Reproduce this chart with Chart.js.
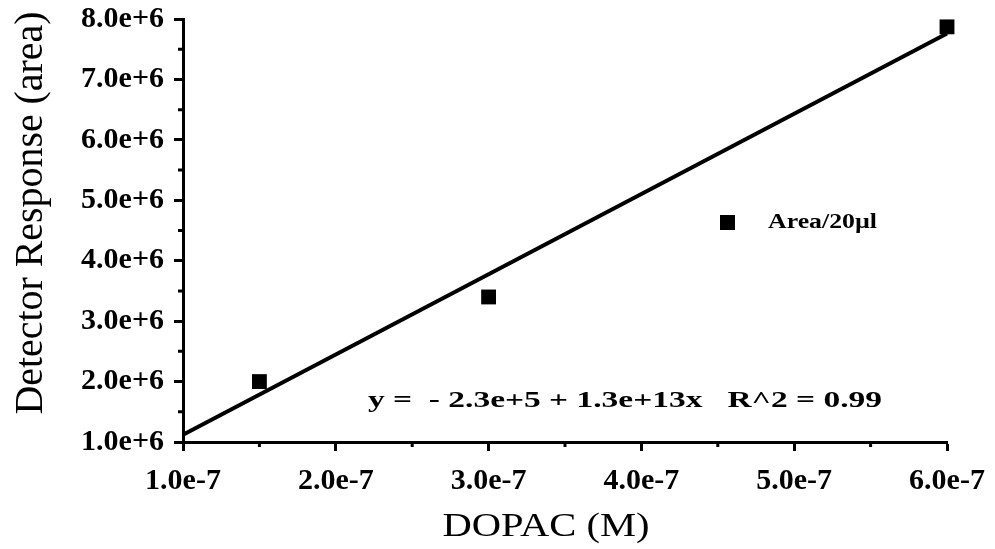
<!DOCTYPE html>
<html>
<head>
<meta charset="utf-8">
<script src="https://cdn.jsdelivr.net/npm/chart.js@4.4.0/dist/chart.umd.min.js"></script>
<style>
  html, body { margin: 0; padding: 0; background: #fff; }
  #wrap { width: 995px; height: 549px; position: relative; }
</style>
</head>
<body>
<div id="wrap"><canvas id="chart"></canvas></div>
<script>
// measured points (DOPAC concentration vs peak area)
const concM = [1.5e-7, 3.0e-7, 6.0e-7];
const areaCounts = [2.0e6, 3.4e6, 7.87e6];

// regression line as drawn, end points
const fitX = [1.0e-7, 6.0e-7];
const fitY = [1.12e6, 7.76e6];

const xTicks = [1e-7, 2e-7, 3e-7, 4e-7, 5e-7, 6e-7];
const yTicks = [1e6, 2e6, 3e6, 4e6, 5e6, 6e6, 7e6, 8e6];

const seriesLabel = 'Area/20\u00b5l';
const equationText = 'y =  - 2.3e+5 + 1.3e+13x   R^2 = 0.99';
const xTitle = 'DOPAC (M)';
const yTitle = 'Detector Response (area)';

const SERIF = '"Liberation Serif", "Times New Roman", serif';
const INK = '#000';

// short unlabelled ticks half way between the labelled ones
const minorTicks = {
  id: 'minorTicks',
  afterDraw(chart) {
    const { ctx, chartArea, scales } = chart;
    ctx.save();
    ctx.strokeStyle = INK;
    ctx.lineWidth = 3;
    ctx.beginPath();
    for (let i = 0; i < xTicks.length - 1; i++) {
      const px = scales.x.getPixelForValue((xTicks[i] + xTicks[i + 1]) / 2);
      ctx.moveTo(px, chartArea.bottom);
      ctx.lineTo(px, chartArea.bottom + 5);
    }
    for (let i = 0; i < yTicks.length - 1; i++) {
      const py = scales.y.getPixelForValue((yTicks[i] + yTicks[i + 1]) / 2);
      ctx.moveTo(chartArea.left, py);
      ctx.lineTo(chartArea.left - 5, py);
    }
    ctx.stroke();
    ctx.restore();
  }
};

// the scan is a little wider than tall, so text is squeezed to the measured width
function stretchedText(ctx, text, x, y, font, width, align) {
  ctx.save();
  ctx.font = font;
  ctx.textBaseline = 'middle';
  ctx.textAlign = align || 'left';
  const w = ctx.measureText(text).width;
  ctx.translate(x, y);
  ctx.scale(width / w, 1);
  ctx.fillText(text, 0, 0);
  ctx.restore();
}

// titles, legend and fit equation
const annotations = {
  id: 'annotations',
  afterDraw(chart) {
    const { ctx } = chart;
    ctx.save();
    ctx.fillStyle = INK;
    ctx.fillRect(720, 215, 15, 15);
    stretchedText(ctx, seriesLabel, 768, 223, 'bold 20px ' + SERIF, 109);
    stretchedText(ctx, equationText, 368, 401, 'bold 24px ' + SERIF, 514);
    stretchedText(ctx, xTitle, 546, 527, '33px ' + SERIF, 207, 'center');
    ctx.translate(31, 213);
    ctx.rotate(-Math.PI / 2);
    stretchedText(ctx, yTitle, 0, 0, '40px ' + SERIF, 403, 'center');
    ctx.restore();
  }
};

const tickFont = { family: SERIF, size: 30, weight: 'bold' };
const axisGrid = { drawOnChartArea: false, drawTicks: true, tickLength: 9, tickWidth: 3, tickColor: INK };

new Chart(document.getElementById('chart'), {
  type: 'scatter',
  data: {
    datasets: [
      {
        label: seriesLabel,
        data: concM.map((x, i) => ({ x, y: areaCounts[i] })),
        pointStyle: 'rect',
        pointRadius: 10.5,
        backgroundColor: INK,
        borderColor: INK,
        borderWidth: 0,
        clip: false
      },
      {
        label: 'fit',
        type: 'line',
        data: fitX.map((x, i) => ({ x, y: fitY[i] })),
        borderColor: INK,
        borderWidth: 4,
        pointRadius: 0,
        fill: false,
        clip: false
      }
    ]
  },
  options: {
    responsive: true,
    maintainAspectRatio: false,
    animation: false,
    layout: { padding: { top: 19, right: 48, left: 0, bottom: 0 } },
    plugins: { legend: { display: false }, tooltip: { enabled: false } },
    scales: {
      x: {
        type: 'linear',
        min: xTicks[0], max: xTicks[xTicks.length - 1],
        afterBuildTicks: s => { s.ticks = xTicks.map(v => ({ value: v })); },
        afterFit: s => { s.height = 107; s.paddingLeft = 0; s.paddingRight = 0; },
        ticks: { callback: v => v.toExponential(1), font: tickFont, color: INK, padding: 12, maxRotation: 0, autoSkip: false },
        grid: axisGrid,
        border: { color: INK, width: 3 }
      },
      y: {
        type: 'linear',
        min: yTicks[0], max: yTicks[yTicks.length - 1],
        afterBuildTicks: s => { s.ticks = yTicks.map(v => ({ value: v })); },
        afterFit: s => { s.width = 183; s.paddingTop = 0; s.paddingBottom = 0; },
        ticks: { callback: v => v.toExponential(1), font: tickFont, color: INK, padding: 10, autoSkip: false },
        grid: axisGrid,
        border: { color: INK, width: 3 }
      }
    }
  },
  plugins: [minorTicks, annotations]
});
</script>
</body>
</html>
